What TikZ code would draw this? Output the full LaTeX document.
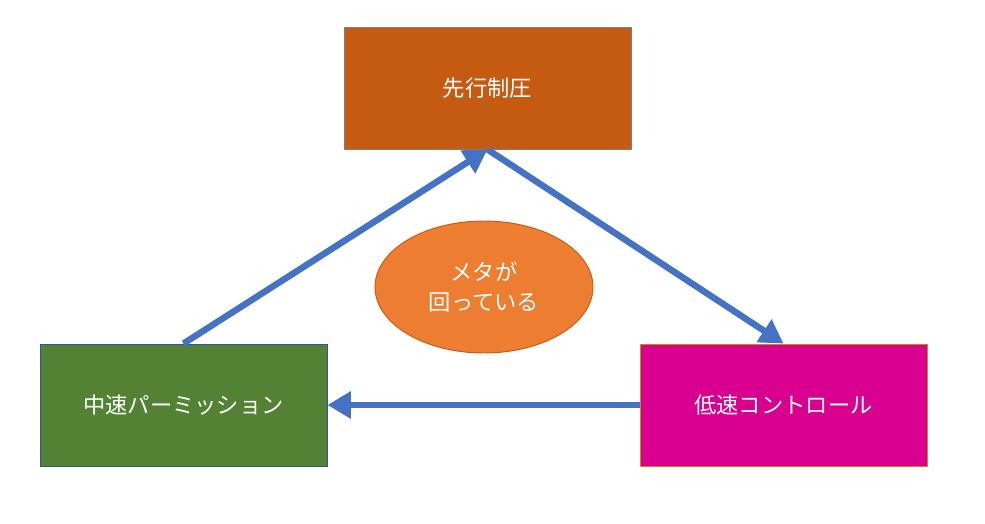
\documentclass[tikz,border=0pt]{standalone}
\usepackage{fontspec}
\newfontfamily\cjk{Noto Sans CJK JP}
\usetikzlibrary{arrows.meta,shapes.geometric}
\definecolor{boxorange}{HTML}{C55A11}
\definecolor{boxgreen}{HTML}{548235}
\definecolor{boxpink}{HTML}{D9008F}
\definecolor{ovalorange}{HTML}{ED7D31}
\definecolor{arrowblue}{HTML}{4472C4}
\definecolor{edgeblue}{HTML}{2F5597}
\definecolor{edgegold}{HTML}{BF9000}
\begin{document}
\begin{tikzpicture}[
  font=\cjk\fontsize{19}{25}\selectfont,
  b/.style={rectangle, draw, line width=0.8pt, align=center, text=white,
    minimum width=8.61cm, minimum height=3.66cm},
  ov/.style={ellipse, draw=boxorange, line width=0.8pt, fill=ovalorange, align=center,
    text=white, minimum width=6.54cm, minimum height=3.96cm, inner sep=0pt},
  a/.style={arrowblue, line width=5.5pt, -{Triangle[length=0.7cm, width=0.78cm]}}
]
\useasboundingbox (0,0) rectangle (29.55,15.69);
\node[b, fill=boxorange, draw=gray] (sen) at (14.625,13.05) {先行制圧};
\node[b, fill=boxgreen, draw=edgeblue] (chu) at (5.505,3.54) {中速パーミッション};
\node[b, fill=boxpink, draw=edgegold] (tei) at (23.505,3.54) {低速コントロール};
\node[ov] (meta) at (14.52,7.08) {メタが\\回っている};
\draw[a] (chu.north) -- (sen.south);
\draw[a] (sen.south) -- (tei.north);
\draw[a] (tei.west) -- (chu.east);
\end{tikzpicture}
\end{document}
